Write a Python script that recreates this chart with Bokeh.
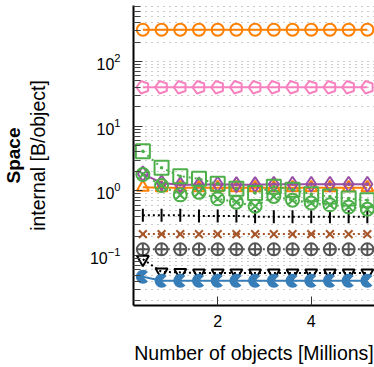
from bokeh.plotting import figure
from bokeh.models import Range1d, FixedTicker, LogTickFormatter, Title
from bokeh.embed import file_html
from bokeh.resources import INLINE

# ---- data ----
x_millions = [0.4, 0.8, 1.2, 1.6, 2.0, 2.4, 2.8, 3.2, 3.6, 4.0, 4.4, 4.8, 5.2]

orange_circles = [310, 310, 310, 310, 310, 310, 310, 310, 310, 310, 310, 310, 310]
pink_pentagons = [40, 40, 40, 40, 40, 40, 40, 40, 40, 40, 40, 40, 40]
green_squares = [4.1, 2.28, 1.69, 1.54, 1.29, 1.08, 0.93, 1.16, 1.04, 0.89, 0.82, 0.76, 0.72]
green_circle_x = [1.79, 1.21, 0.87, 0.95, 0.755, 0.67, 0.58, 0.82, 0.72, 0.65, 0.61, 0.565, 0.52]
purple_diamonds = [1.83, 1.33, 1.24, 1.24, 1.27, 1.25, 1.25, 1.27, 1.27, 1.27, 1.27, 1.27, 1.27]
orange_triangles = [1.14, 1.12, 1.12, 1.12, 1.12, 1.12, 1.12, 1.12, 1.12, 1.12, 1.12, 1.12, 1.12]
black_bars = [0.42, 0.42, 0.42, 0.41, 0.41, 0.41, 0.40, 0.40, 0.40, 0.40, 0.40, 0.40, 0.40]
brown_x = [0.215, 0.215, 0.215, 0.215, 0.215, 0.215, 0.215, 0.215, 0.215, 0.215, 0.215, 0.215, 0.215]
gray_circle_cross = [0.125, 0.125, 0.125, 0.125, 0.125, 0.125, 0.125, 0.125, 0.125, 0.125, 0.125, 0.125, 0.125]
black_inv_triangles = [0.088, 0.056, 0.055, 0.054, 0.054, 0.054, 0.054, 0.054, 0.054, 0.054, 0.054, 0.054, 0.054]
blue_pacman = [0.047, 0.041, 0.041, 0.041, 0.041, 0.041, 0.041, 0.041, 0.041, 0.041, 0.041, 0.041, 0.041]

y_major = [0.1, 1, 10, 100]
y_minor = [m * 10.0 ** e for e in (-2, -1, 0, 1, 2) for m in range(2, 10)]
x_major = [2, 4]

ORANGE = "#ff7f00"
PINK = "#f781bf"
GREEN = "#4daf4a"
PURPLE = "#984ea3"
BROWN = "#a65628"
BLUE = "#377eb8"
DGRAY = "#555555"
BLACK = "#000000"
FONT = "Liberation Sans"

p = figure(width=374, height=367, y_axis_type="log",
           x_range=Range1d(0.2, 5.353), y_range=Range1d(0.01694, 733.9),
           output_backend="svg", toolbar_location=None,
           min_border_left=131, min_border_right=0, min_border_top=5,
           min_border_bottom=62)
p.outline_line_color = None
p.background_fill_color = "white"
p.border_fill_color = "white"

# axes
p.yaxis.ticker = FixedTicker(ticks=y_major, minor_ticks=y_minor)
p.yaxis.formatter = LogTickFormatter()
p.xaxis.ticker = FixedTicker(ticks=x_major, minor_ticks=[])
for ax in (p.xaxis[0], p.yaxis[0]):
    ax.axis_line_width = 2
    ax.axis_line_color = BLACK
    ax.major_tick_in = 9
    ax.major_tick_out = 0
    ax.minor_tick_in = 7
    ax.minor_tick_out = 0
    ax.major_tick_line_color = "#333333"
    ax.minor_tick_line_color = "#444444"
    ax.major_label_text_font = FONT
    ax.major_label_text_font_size = "16px"
    ax.major_label_text_color = BLACK
    ax.axis_label_text_font = FONT
    ax.axis_label_text_font_size = "19.5px"
    ax.axis_label_text_font_style = "normal"
    ax.axis_label_text_color = BLACK

p.xaxis.axis_label = "Number of objects [Millions]"
p.xaxis.major_label_standoff = 9
p.xaxis.axis_label_standoff = 12
p.yaxis.axis_label = "internal [B/object]"
p.yaxis.major_label_standoff = 13
p.yaxis.axis_label_standoff = 38

p.add_layout(Title(text="Space", text_font=FONT, text_font_size="19px",
                   text_font_style="bold", text_color=BLACK,
                   align="center", standoff=0), "left")

# grid
p.xgrid.grid_line_color = None
p.ygrid.grid_line_color = "#999999"
p.ygrid.grid_line_dash = "1 5"
p.ygrid.minor_grid_line_color = "#999999"
p.ygrid.minor_grid_line_dash = "1 5"

LW = 2

# series
p.line(x_millions, orange_circles, color=ORANGE, line_width=LW)
p.scatter(x_millions, orange_circles, marker="circle", size=12, line_color=ORANGE,
          fill_color="white", fill_alpha=0, line_width=LW)

p.line(x_millions, pink_pentagons, color=PINK, line_width=LW)
p.ngon(x_millions, pink_pentagons, radius=6.5, radius_units="screen", n=5,
       angle=1.5708, line_color=PINK, fill_color="white", fill_alpha=0,
       line_width=LW)

p.line(x_millions, black_bars, color=BLACK, line_width=2, line_dash="2 3")
p.scatter(x_millions, black_bars, marker="dash", angle=1.5708, size=13,
          line_color=BLACK, line_width=2)

p.line(x_millions, brown_x, color=BROWN, line_width=2, line_dash="2 3")
p.scatter(x_millions, brown_x, marker="x", size=11, line_color=BROWN, line_width=LW)

p.line(x_millions, gray_circle_cross, color=DGRAY, line_width=2, line_dash="2 3")
p.scatter(x_millions, gray_circle_cross, marker="circle_cross", size=12,
          line_color=DGRAY, fill_alpha=0, line_width=LW)

p.line(x_millions, black_inv_triangles, color=BLACK, line_width=2, line_dash="2 3")
p.scatter(x_millions, black_inv_triangles, marker="inverted_triangle", size=12,
          line_color=BLACK, fill_alpha=0, line_width=LW)

p.line(x_millions, blue_pacman, color=BLUE, line_width=LW)
p.wedge(x_millions, blue_pacman, radius=7, radius_units="screen",
        start_angle=0.75, end_angle=-0.75, direction="anticlock",
        fill_color=BLUE, line_color=None)

p.line(x_millions, orange_triangles, color=ORANGE, line_width=LW)
p.scatter(x_millions, orange_triangles, marker="triangle", size=12,
          line_color=ORANGE, fill_alpha=0, line_width=LW)

p.line(x_millions, purple_diamonds, color=PURPLE, line_width=LW)
p.scatter(x_millions, purple_diamonds, marker="diamond_dot", size=15,
          line_color=PURPLE, fill_alpha=0, line_width=LW)

p.line(x_millions, green_circle_x, color=GREEN, line_width=2, line_dash="2 4")
p.scatter(x_millions, green_circle_x, marker="circle_x", size=13,
          line_color=GREEN, fill_alpha=0, line_width=LW)

p.line(x_millions, green_squares, color=GREEN, line_width=2, line_dash="2 4")
p.scatter(x_millions, green_squares, marker="square_dot", size=14,
          line_color=GREEN, fill_alpha=0, line_width=LW)

open("out.html", "w").write(file_html(p, INLINE))
